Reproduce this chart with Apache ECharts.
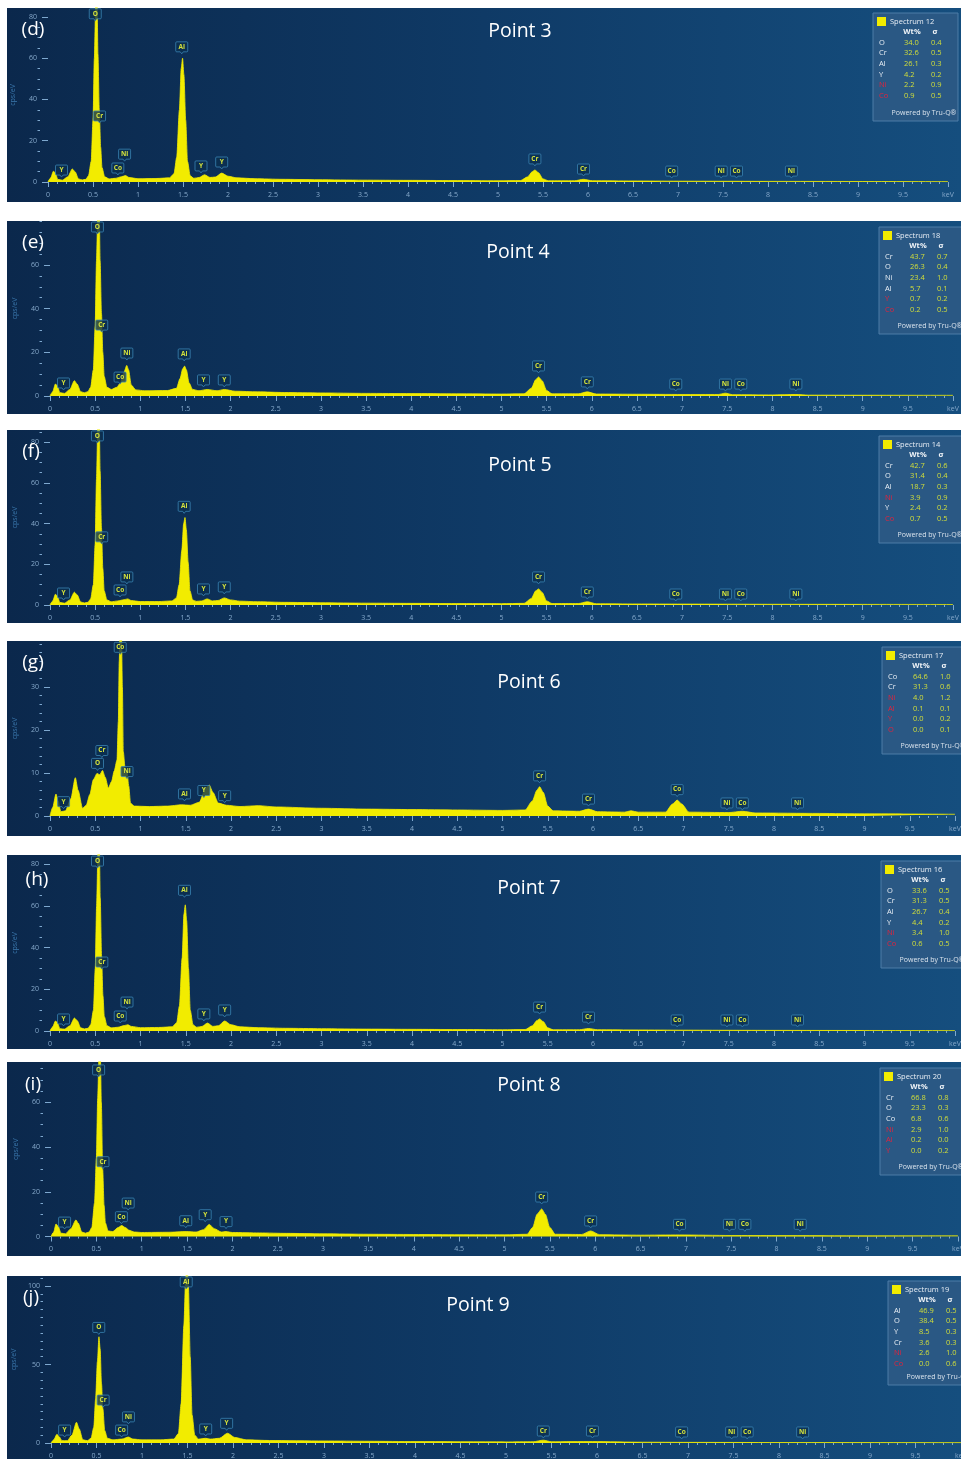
<!DOCTYPE html>
<html><head><meta charset="utf-8">
<script src="https://cdn.jsdelivr.net/npm/echarts@6/dist/echarts.min.js"></script>
<style>html,body{margin:0;padding:0;background:#fff}#c{width:961px;height:1459px}</style>
</head><body><div id="c"></div>
<script>
// ---------------- DATA ----------------
const panelLetters = ['(d)','(e)','(f)','(g)','(h)','(i)','(j)'];
const pointTitles = ['Point 3','Point 4','Point 5','Point 6','Point 7','Point 8','Point 9'];
const spectrumNames = ['Spectrum 12','Spectrum 18','Spectrum 14','Spectrum 17','Spectrum 16','Spectrum 20','Spectrum 19'];
const xTickLabels = ['0','0.5','1','1.5','2','2.5','3','3.5','4','4.5','5','5.5','6','6.5','7','7.5','8','8.5','9','9.5','keV'];

const tableElements = [
  ['O','Cr','Al','Y','Ni','Co'],
  ['Cr','O','Ni','Al','Y','Co'],
  ['Cr','O','Al','Ni','Y','Co'],
  ['Co','Cr','Ni','Al','Y','O'],
  ['O','Cr','Al','Y','Ni','Co'],
  ['Cr','O','Co','Ni','Al','Y'],
  ['Al','O','Y','Cr','Ni','Co']
];
const tableWt = [
  ['34.0','32.6','26.1','4.2','2.2','0.9'],
  ['43.7','26.3','23.4','5.7','0.7','0.2'],
  ['42.7','31.4','18.7','3.9','2.4','0.7'],
  ['64.6','31.3','4.0','0.1','0.0','0.0'],
  ['33.6','31.3','26.7','4.4','3.4','0.6'],
  ['66.8','23.3','6.8','2.9','0.2','0.0'],
  ['46.9','38.4','8.5','3.6','2.6','0.0']
];
const tableSigma = [
  ['0.4','0.5','0.3','0.2','0.9','0.5'],
  ['0.7','0.4','1.0','0.1','0.2','0.5'],
  ['0.6','0.4','0.3','0.9','0.2','0.5'],
  ['1.0','0.6','1.2','0.1','0.2','0.1'],
  ['0.5','0.5','0.4','0.2','1.0','0.5'],
  ['0.8','0.3','0.6','1.0','0.0','0.2'],
  ['0.5','0.5','0.3','0.3','1.0','0.6']
];
const tableRed = [
  [0,0,0,0,1,1],
  [0,0,0,0,1,1],
  [0,0,0,1,0,1],
  [0,0,1,1,1,1],
  [0,0,0,0,1,1],
  [0,0,0,1,1,1],
  [0,0,0,0,1,1]
];

// peak marker labels (element, line energy keV)
const markerNames    = ['Y','O','Cr','Co','Ni','Al','Y','Y','Cr','Cr','Co','Ni','Co','Ni'];
const markerEnergies = [0.15,0.525,0.573,0.776,0.851,1.486,1.70,1.93,5.41,5.95,6.93,7.48,7.65,8.26];
const markerHeightsP3 = [5.3,81,31.5,6.3,13,65,7.3,9.2,10.7,5.8,4.8,4.8,4.8,4.8];
const markerHeightsP4 = [5.5,76.9,32,8.2,19.2,18.8,6.9,6.9,13.3,6,5,5,5,5];
const markerHeightsP5 = [5.4,82.6,33,6.9,13.3,48,7.4,8.4,13.3,5.9,4.9,4.9,4.9,4.9];
const markerHeightsP6 = [3.1,12,15,39,10.1,4.9,5.7,4.5,9.1,3.7,5.9,2.8,2.8,2.8];
const markerHeightsP7 = [5.3,81,32.6,6.7,13.4,67,7.7,9.6,11,6.2,4.8,4.8,4.8,4.8];
const markerHeightsP8 = [6,74,33,8.4,14.5,6.6,9.3,6.2,17.2,6.5,5,5,5,5];
const markerHeightsP9 = [7.6,73,26.7,7.6,16,102,8.3,11.9,7,7,6.4,6.4,6.4,6.4];

// spectra [keV, cps/eV]
const spectrumP3 = [[0,0],[0.03,2],[0.06,5.2],[0.08,4.5],[0.11,1.2],[0.16,0.9],[0.22,2.5],[0.27,6.3],[0.30,5],[0.34,1.5],[0.38,1],[0.42,1.3],[0.45,3],[0.48,10],[0.50,30],[0.515,60],[0.53,86],[0.545,88],[0.555,62],[0.57,35],[0.585,17],[0.60,7],[0.63,2.5],[0.68,1.5],[0.75,1.8],[0.82,2.6],[0.86,3.1],[0.90,2.2],[1.0,1.6],[1.2,1.7],[1.35,2],[1.40,4],[1.43,12],[1.46,35],[1.48,55],[1.495,60],[1.51,52],[1.53,30],[1.55,10],[1.58,3],[1.62,1.8],[1.68,2.2],[1.74,3.5],[1.80,2.2],[1.86,2.4],[1.93,4.3],[2.0,2.8],[2.1,2],[2.3,1.6],[2.6,1.3],[3,1.1],[3.5,0.9],[4,0.8],[4.5,0.7],[5,0.6],[5.25,0.7],[5.33,2.5],[5.38,5],[5.41,5.8],[5.45,4.5],[5.5,1.5],[5.56,0.6],[5.85,0.6],[5.95,1.3],[6.05,0.6],[6.5,0.5],[7,0.4],[7.5,0.35],[8,0.3],[9,0.25],[10,0.2]];
const spectrumP4 = [[0,0],[0.03,2],[0.06,5.5],[0.08,4.8],[0.11,1.5],[0.16,1.2],[0.22,3],[0.27,7],[0.30,5.5],[0.34,2],[0.38,1.5],[0.42,2],[0.45,4],[0.48,12],[0.50,32],[0.515,62],[0.53,85],[0.545,86],[0.555,62],[0.57,38],[0.585,20],[0.60,9],[0.63,4],[0.68,3],[0.74,4],[0.78,6],[0.82,11],[0.85,14],[0.87,12],[0.9,5],[0.95,2.8],[1.05,2.4],[1.3,2.5],[1.4,3.5],[1.44,8],[1.47,12.5],[1.49,13.7],[1.51,12],[1.54,6],[1.58,3],[1.65,2.4],[1.74,3],[1.85,2.4],[1.93,3],[2.05,2.2],[2.3,1.9],[2.6,1.6],[3,1.4],[3.5,1.2],[4,1.1],[4.5,1],[5,0.9],[5.25,1],[5.33,3.5],[5.38,7.5],[5.41,8.7],[5.45,7],[5.5,2.5],[5.56,1],[5.85,1],[5.95,1.9],[6.05,0.9],[6.5,0.8],[7,0.7],[7.4,0.7],[7.48,1.3],[7.56,0.6],[8,0.5],[8.26,0.7],[8.4,0.4],[9,0.35],[10,0.3]];
const spectrumP5 = [[0,0],[0.03,2],[0.06,5.3],[0.08,4.5],[0.11,1.2],[0.16,0.9],[0.22,2.5],[0.27,6.3],[0.30,5],[0.34,1.5],[0.38,1],[0.42,1.3],[0.45,3],[0.48,10],[0.50,30],[0.515,62],[0.53,90],[0.545,92],[0.555,66],[0.57,38],[0.585,18],[0.60,7],[0.63,2.5],[0.68,1.6],[0.75,2],[0.82,2.6],[0.86,3],[0.90,2.2],[1.0,1.7],[1.2,1.7],[1.35,2],[1.40,3.5],[1.43,10],[1.46,27],[1.48,40],[1.495,43],[1.51,37],[1.53,21],[1.55,7],[1.58,2.5],[1.62,1.8],[1.68,2],[1.74,3],[1.80,2],[1.86,2.2],[1.93,3.5],[2.0,2.5],[2.1,1.9],[2.3,1.6],[2.6,1.3],[3,1.1],[3.5,0.9],[4,0.8],[4.5,0.7],[5,0.65],[5.25,0.8],[5.33,3.2],[5.38,7],[5.41,7.9],[5.45,6.2],[5.5,2],[5.56,0.7],[5.85,0.7],[5.95,1.6],[6.05,0.6],[6.5,0.5],[7,0.45],[7.5,0.4],[8,0.35],[9,0.3],[10,0.25]];
const spectrumP6 = [[0,0],[0.03,2],[0.066,5.1],[0.09,3.5],[0.12,1.0],[0.17,1.2],[0.23,4],[0.28,8.9],[0.31,6],[0.36,1.8],[0.40,2.5],[0.44,5],[0.48,8.5],[0.52,9.9],[0.55,9.6],[0.58,10.6],[0.61,9],[0.645,6.5],[0.68,8],[0.71,10.5],[0.74,13],[0.755,22],[0.765,36],[0.775,44],[0.79,42],[0.80,30],[0.81,15],[0.83,11],[0.85,10.5],[0.87,7],[0.89,3],[0.93,2.3],[1.1,2.2],[1.3,2.3],[1.45,2.6],[1.55,2.5],[1.65,3.2],[1.72,6.5],[1.76,7.2],[1.80,5.5],[1.86,3],[1.95,2.5],[2.1,2.2],[2.3,2.4],[2.5,2.1],[3,1.8],[3.5,1.6],[4,1.5],[4.5,1.4],[5,1.3],[5.25,1.4],[5.33,3.5],[5.38,6],[5.41,6.8],[5.45,5.5],[5.5,2.3],[5.56,1.2],[5.85,1.1],[5.95,1.6],[6.05,1.0],[6.35,0.9],[6.42,1.2],[6.5,0.9],[6.8,0.9],[6.88,2.8],[6.93,3.7],[6.98,2.8],[7.06,0.9],[7.5,0.8],[7.65,1.1],[7.8,0.7],[8.5,0.6],[9,0.5],[10,0.4]];
const spectrumP7 = [[0,0],[0.03,2],[0.06,4.8],[0.08,4.2],[0.11,1.1],[0.16,0.9],[0.22,2.5],[0.27,6.2],[0.30,5],[0.34,1.5],[0.38,1],[0.42,1.3],[0.45,3],[0.48,10],[0.50,30],[0.515,60],[0.53,86],[0.545,90],[0.555,64],[0.57,36],[0.585,17],[0.60,7],[0.63,2.5],[0.68,1.5],[0.75,1.8],[0.82,2.6],[0.86,3],[0.90,2.2],[1.0,1.6],[1.2,1.7],[1.35,2],[1.40,4],[1.43,12],[1.46,35],[1.48,56],[1.495,60.5],[1.51,53],[1.53,30],[1.55,10],[1.58,3],[1.62,1.8],[1.68,2.2],[1.74,3.8],[1.80,2.2],[1.86,2.5],[1.93,4.8],[2.0,3],[2.1,2],[2.3,1.6],[2.6,1.3],[3,1.1],[3.5,0.9],[4,0.8],[4.5,0.7],[5,0.6],[5.25,0.7],[5.33,2.5],[5.38,5],[5.41,5.8],[5.45,4.5],[5.5,1.5],[5.56,0.6],[5.85,0.6],[5.95,1.2],[6.05,0.6],[6.5,0.5],[7,0.4],[7.5,0.35],[8,0.3],[9,0.25],[10,0.2]];
const spectrumP8 = [[0,0],[0.03,2],[0.055,5.6],[0.08,4.5],[0.11,1.5],[0.16,1.2],[0.22,3.5],[0.275,7.4],[0.30,6],[0.34,2],[0.38,1.5],[0.42,2],[0.45,4],[0.48,15],[0.50,35],[0.515,62],[0.53,82],[0.545,80],[0.555,60],[0.57,30],[0.585,14],[0.60,6],[0.63,2.5],[0.68,2.2],[0.74,4],[0.78,4.9],[0.82,4],[0.86,2.8],[0.92,2],[1.0,1.8],[1.3,1.9],[1.49,2.2],[1.6,2],[1.68,3],[1.745,5.4],[1.80,3.5],[1.88,2],[1.93,2.2],[2.0,1.8],[2.3,1.6],[2.6,1.4],[3,1.2],[3.5,1],[4,0.9],[4.5,0.8],[5,0.75],[5.25,1],[5.31,4],[5.36,10],[5.41,12.3],[5.45,10],[5.5,4],[5.56,1],[5.85,0.9],[5.95,2.5],[6.05,0.8],[6.5,0.6],[6.93,0.7],[7.5,0.45],[8,0.4],[9,0.3],[10,0.25]];
const spectrumP9 = [[0,0],[0.03,2],[0.065,5.5],[0.09,4],[0.12,1.5],[0.18,1.5],[0.23,5],[0.28,13.2],[0.31,9],[0.35,2],[0.40,1.5],[0.44,3],[0.47,10],[0.49,28],[0.51,52],[0.527,67.7],[0.54,60],[0.555,38],[0.57,22],[0.59,8],[0.62,3],[0.68,2],[0.78,2.5],[0.85,3.8],[0.9,2.5],[1.0,2],[1.2,2],[1.35,2.5],[1.40,6],[1.43,25],[1.46,75],[1.48,105],[1.495,115],[1.51,100],[1.53,55],[1.55,18],[1.58,5],[1.62,2.5],[1.7,3],[1.75,2.5],[1.85,3],[1.94,6.2],[2.02,3.5],[2.15,2],[2.4,1.6],[3,1.3],[3.5,1.1],[4,0.9],[5,0.7],[5.3,0.8],[5.41,1.8],[5.5,0.8],[5.95,0.9],[6.5,0.5],[7,0.4],[8,0.3],[9,0.25],[10,0.2]];

const yMajorTicks = [[0,20,40,60,80],[0,20,40,60],[0,20,40,60,80],[0,10,20,30],[0,20,40,60,80],[0,20,40,60],[0,50,100]];
const yMinorStep = [5,5,5,2,5,5,5];

// ---------------- LAYOUT ----------------
const spectra = [spectrumP3,spectrumP4,spectrumP5,spectrumP6,spectrumP7,spectrumP8,spectrumP9];
const markerHeights = [markerHeightsP3,markerHeightsP4,markerHeightsP5,markerHeightsP6,markerHeightsP7,markerHeightsP8,markerHeightsP9];
const layout = [
  {top:8,    h:194, left:48, width:900, plotH:174,   yMax:84.3, title:[520,31],  letter:[33,30],   box:[873,13,85,108]},
  {top:221,  h:193, left:50, width:903, plotH:175,   yMax:80.1, title:[518,252], letter:[33,243],  box:[879,227,90,107]},
  {top:430,  h:193, left:50, width:903, plotH:175,   yMax:86,   title:[520,465], letter:[31,452],  box:[879,436,90,107]},
  {top:641,  h:195, left:50, width:905, plotH:175,   yMax:40.7, title:[529,682], letter:[33,663],  box:[882,647,90,107]},
  {top:855,  h:194, left:50, width:905, plotH:176,   yMax:84.4, title:[529,888], letter:[37,880],  box:[881,861,90,107]},
  {top:1062, h:194, left:51, width:907, plotH:174.5, yMax:78,   title:[529,1085],letter:[33,1085], box:[880,1068,90,107]},
  {top:1276, h:183, left:51, width:910, plotH:167,   yMax:106.4,title:[478,1305],letter:[31,1298], box:[888,1281,90,104]}
];

const FONT = '"Open Sans", "Noto Sans", sans-serif';
const tickColor = '#7ea8cf';
const labelColor = '#86a9cb';
const grad = {type:'linear',x:0,y:0,x2:1,y2:0,colorStops:[{offset:0,color:'#0b284c'},{offset:0.5,color:'#0f3a66'},{offset:1,color:'#154e7e'}]};
const markerPath = 'path://M1,0 H11 Q12,0 12,1 V9 Q12,10 11,10 H7.5 L6,12 L4.5,10 H1 Q0,10 0,9 V1 Q0,0 1,0 Z';

const grids=[], xAxes=[], yAxes=[], series=[], graphics=[];

layout.forEach((L,i)=>{
  graphics.push({type:'rect', silent:true, z:-10, shape:{x:7,y:L.top,width:954,height:L.h}, style:{fill:grad}});
  graphics.push({type:'text', z:10, style:{text:panelLetters[i], x:L.letter[0], y:L.letter[1], fill:'#ffffff', fontSize:19, fontFamily:FONT, textAlign:'center', textVerticalAlign:'middle', align:'center', verticalAlign:'middle'}});
  graphics.push({type:'text', z:10, style:{text:pointTitles[i], x:L.title[0], y:L.title[1], fill:'#ffffff', fontSize:19.5, fontFamily:FONT, textAlign:'center', textVerticalAlign:'middle', align:'center', verticalAlign:'middle'}});

  // legend table box
  const bx=L.box[0], by=L.box[1];
  const children=[];
  children.push({type:'rect', shape:{x:bx,y:by,width:L.box[2],height:L.box[3]}, style:{fill:'#2a5884', stroke:'#4c7ca7', lineWidth:1}});
  children.push({type:'rect', shape:{x:bx+4,y:by+4,width:9,height:9}, style:{fill:'#f2ec00'}});
  const txt=(t,x,y,fill,size,al,w)=>({type:'text', style:{text:t,x:x,y:y,fill:fill,fontSize:size,fontFamily:FONT,fontWeight:w||'normal',textAlign:al,textVerticalAlign:'middle',align:al,verticalAlign:'middle'}});
  children.push(txt(spectrumNames[i], bx+17, by+8.5, '#e8eef5', 7.5, 'left'));
  children.push(txt('Wt%', bx+39, by+19, '#f0f4f8', 7.5, 'center', 'bold'));
  children.push(txt('σ', bx+62, by+19, '#f0f4f8', 7.5, 'center', 'bold'));
  tableElements[i].forEach((el,k)=>{
    const yy = by+29.5+k*10.7;
    children.push(txt(el, bx+6, yy, tableRed[i][k]?'#e4223c':'#e8eef5', 7.5, 'left'));
    children.push(txt(tableWt[i][k], bx+31, yy, '#d2df3a', 7.5, 'left'));
    children.push(txt(tableSigma[i][k], bx+58, yy, '#d2df3a', 7.5, 'left'));
  });
  children.push(txt('Powered by Tru-Q®', bx+51, by+L.box[3]-8.5, '#d8e2ec', 7, 'center'));
  graphics.push({type:'group', z:20, children:children});

  grids.push({left:L.left, top:L.top, width:L.width, height:L.plotH, outerBoundsMode:'none', containLabel:false});

  xAxes.push({type:'value', gridIndex:i, min:0, max:10, interval:0.5,
    axisLine:{show:false}, splitLine:{show:false},
    axisTick:{show:true, length:5, lineStyle:{color:tickColor, width:1}},
    minorTick:{show:true, splitNumber:5, length:2, lineStyle:{color:tickColor, width:1}},
    axisLabel:{color:labelColor, fontSize:7, fontFamily:FONT, margin:9, formatter:(v)=>xTickLabels[Math.round(v*2)]}
  });

  const majors = yMajorTicks[i].filter(v=>v<=L.yMax);
  const minors = [];
  for (let v=yMinorStep[i]; v<L.yMax; v+=yMinorStep[i]) { if (!yMajorTicks[i].includes(v)) minors.push(v); }
  yAxes.push({type:'value', gridIndex:i, min:0, max:L.yMax, position:'left', offset:8,
    axisLine:{show:false}, splitLine:{show:false},
    axisTick:{show:true, length:6, customValues:majors, lineStyle:{color:tickColor, width:1}},
    axisLabel:{show:true, customValues:majors, color:labelColor, fontSize:7, fontFamily:FONT, margin:3},
    name:'cps/eV', nameLocation:'middle', nameGap:24, nameTextStyle:{color:'#3b78ae', fontSize:7, fontFamily:FONT}
  });
  yAxes.push({type:'value', gridIndex:i, min:0, max:L.yMax, position:'left', offset:8,
    axisLine:{show:false}, splitLine:{show:false},
    axisTick:{show:true, length:2.5, customValues:minors, lineStyle:{color:tickColor, width:1}},
    axisLabel:{show:false}
  });

  series.push({type:'line', xAxisIndex:i, yAxisIndex:2*i, data:spectra[i], symbol:'none',
    smooth:0.25, smoothMonotone:'x', clip:true,
    lineStyle:{color:'#f2ec00', width:0.8}, areaStyle:{color:'#f2ec00', opacity:1}, z:2});

  series.push({type:'scatter', xAxisIndex:i, yAxisIndex:2*i, clip:false,
    data: markerEnergies.map((e,k)=>[e, markerHeights[i][k], markerNames[k]]),
    symbol:markerPath, symbolSize:[12,12],
    itemStyle:{color:'rgba(12,48,80,0.78)', borderColor:'#3a84b4', borderWidth:0.8, opacity:1},
    label:{show:true, position:'inside', offset:[0,-1], formatter:(p)=>p.data[2], color:'#d4e23c', fontSize:6.5, fontFamily:FONT, fontWeight:'bold'},
    z:5});
});

const chart = echarts.init(document.getElementById('c'));
chart.setOption({animation:false, grid:grids, xAxis:xAxes, yAxis:yAxes, series:series, graphic:{elements:graphics}});
</script>
</body></html>
